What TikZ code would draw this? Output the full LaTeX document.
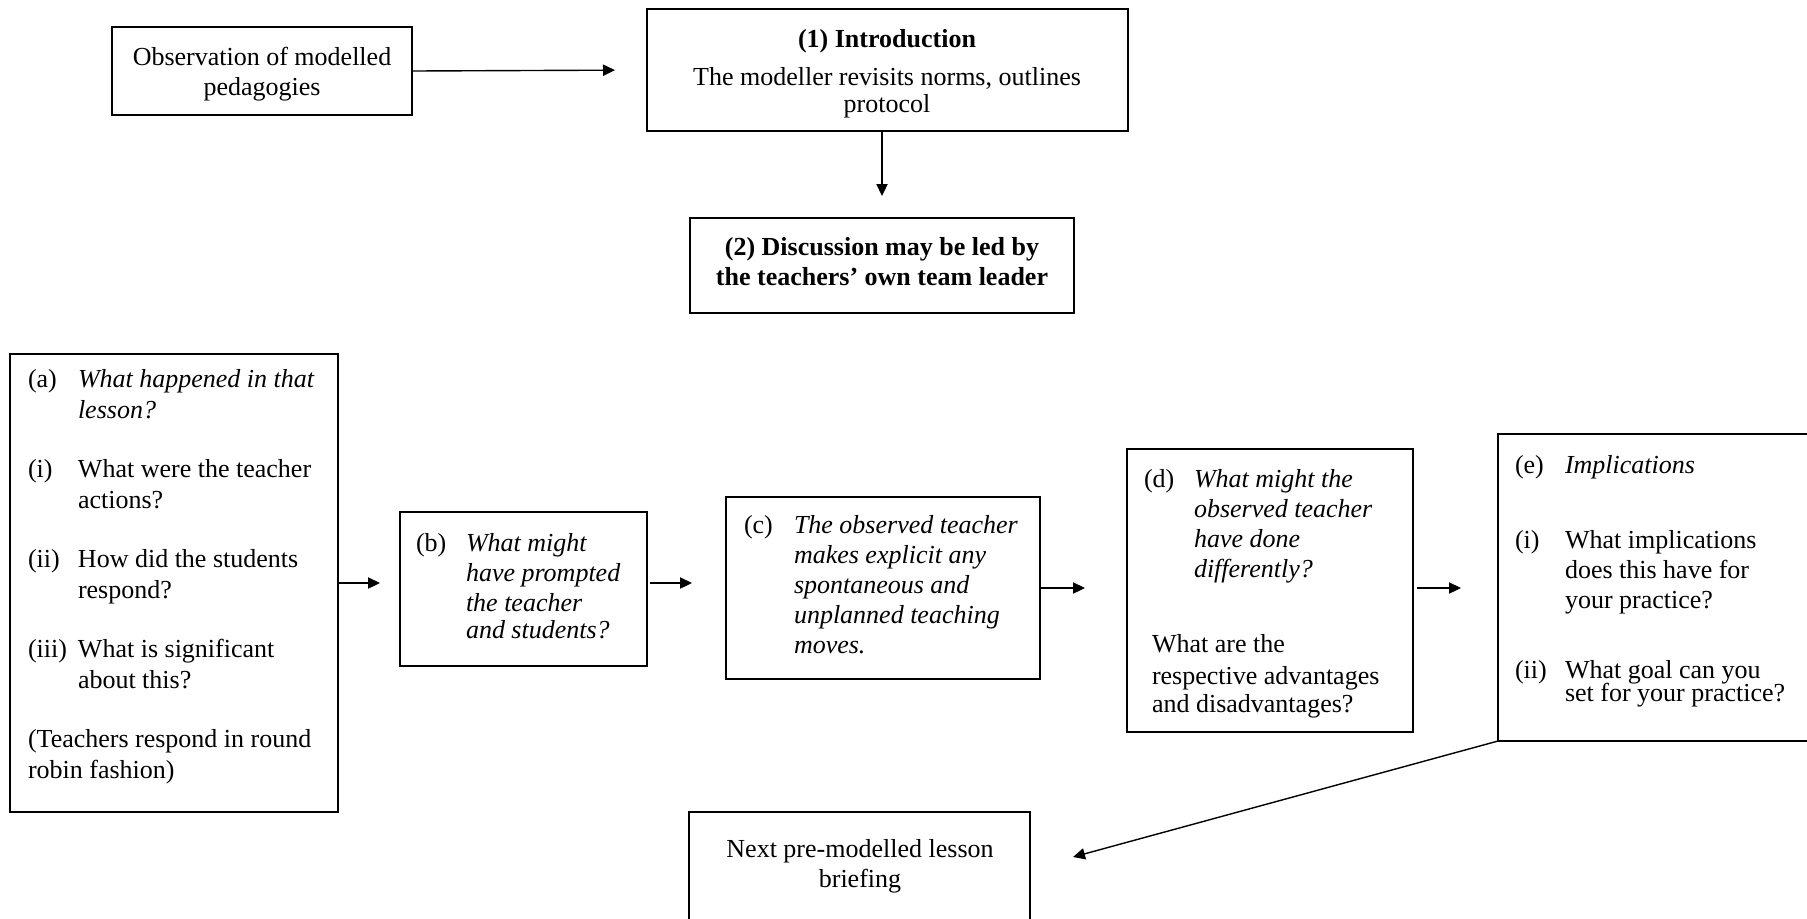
\documentclass[tikz,border=0pt]{standalone}
\usepackage{fontspec}
\setmainfont{Liberation Serif}
\usetikzlibrary{arrows.meta,fit,calc}
\newcommand{\lab}[1]{\makebox[25pt][l]{#1}}
\newcommand{\ind}{\hspace*{25pt}}
\begin{document}
\begin{tikzpicture}[x=0.5pt,y=-0.5pt,
  box/.style={draw, line width=0.8pt, inner sep=0pt, outer sep=0pt},
  txt/.style={inner sep=0pt, outer sep=0pt, font=\fontsize{13}{15}\selectfont},
  arr/.style={line width=0.7pt, -{Triangle[length=6pt,width=5.6pt]}}]
\useasboundingbox (0,0) rectangle (1807,918);
\fill[white] (0,0) rectangle (1807,918);
\clip (0,0) rectangle (1807,918);

% boxes
\node[box, fit={(112,27) (412,115)}] (obs) {};
\node[box, fit={(647,9) (1128,131)}] (intro) {};
\node[box, fit={(690,218) (1074,313)}] (disc) {};
\node[box, fit={(10,354) (338,812)}] (a) {};
\node[box, fit={(400,512) (647,666)}] (b) {};
\node[box, fit={(726,497) (1040,679)}] (c) {};
\node[box, fit={(1127,449) (1413,732)}] (d) {};
\node[box, fit={(1498,434) (1850,741)}] (e) {};
\node[box, fit={(689,812) (1030,950)}] (next) {};

% texts
\node[txt, anchor=base] (obst) at (262,65) {\begin{minipage}[t]{200pt}\centering
Observation of modelled\\pedagogies\end{minipage}};

\node[txt, anchor=base] (introt) at (887,47) {\begin{minipage}[t]{230pt}\centering
\textbf{(1) Introduction}\\[4pt]
The modeller revisits norms, outlines\\[-1.5pt]
protocol\end{minipage}};

\node[txt, anchor=base] (disct) at (882,255) {\begin{minipage}[t]{200pt}\centering\bfseries
(2) Discussion may be led by\\
the teachers’ own team leader\end{minipage}};

\node[txt, anchor=base] (nextt) at (860,857) {\begin{minipage}[t]{170pt}\centering
Next pre-modelled lesson\\briefing\end{minipage}};

\node[txt, anchor=base west] (at) at (28,387) {\begin{minipage}[t]{160pt}\fontsize{13}{15.5}\selectfont\raggedright
\lab{(a)}\textit{What happened in that}\\
\ind\textit{lesson?}\\[14pt]
\lab{(i)}What were the teacher\\
\ind actions?\\[14pt]
\lab{(ii)}How did the students\\
\ind respond?\\[14pt]
\lab{(iii)}What is significant\\
\ind about this?\\[14pt]
(Teachers respond in round\\
robin fashion)\end{minipage}};

\node[txt, anchor=base west] (bt) at (416,551) {\begin{minipage}[t]{120pt}\raggedright
\lab{(b)}\textit{What might}\\
\ind\textit{have prompted}\\
\ind\textit{the teacher}\\[-1.5pt]
\ind\textit{and students?}\end{minipage}};

\node[txt, anchor=base west] (ct) at (744,533) {\begin{minipage}[t]{150pt}\raggedright
\lab{(c)}\textit{The observed teacher}\\
\ind\textit{makes explicit any}\\
\ind\textit{spontaneous and}\\
\ind\textit{unplanned teaching}\\
\ind\textit{moves.}\end{minipage}};

\node[txt, anchor=base west] (dt) at (1144,487) {\begin{minipage}[t]{140pt}\raggedright
\lab{(d)}\textit{What might the}\\
\ind\textit{observed teacher}\\
\ind\textit{have done}\\
\ind\textit{differently?}\\[22.5pt]
\hspace*{4pt}What are the\\[1pt]
\hspace*{4pt}respective advantages\\[-1pt]
\hspace*{4pt}and disadvantages?\end{minipage}};

\node[txt, anchor=base west] (et) at (1515,473) {\begin{minipage}[t]{150pt}\raggedright
\lab{(e)}\textit{Implications}\\[22.5pt]
\lab{(i)}What implications\\
\ind does this have for\\
\ind your practice?\\[20pt]
\lab{(ii)}What goal can you\\[-3.5pt]
\ind set for your practice?\end{minipage}};

% connectors
\coordinate (nx) at (1073,857);
\draw[arr, shorten >=16pt] (obs.east) -- (intro.west);
\draw[arr, shorten >=11pt] (intro.south -| disc.north) -- (disc.north);
\draw[arr, shorten >=10pt] (a.east) -- (a.east -| b.west);
\draw[arr, shorten <=1.5pt, shorten >=17pt] (b.east |- a.east) -- (c.west |- a.east);
\draw[arr, shorten >=21pt] (c.east) -- (c.east -| d.west);
\draw[arr, shorten <=2pt, shorten >=18.5pt] (d.east |- c.east) -- (e.west |- c.east);
\draw[arr] (e.south west) -- (nx);
\end{tikzpicture}
\end{document}
